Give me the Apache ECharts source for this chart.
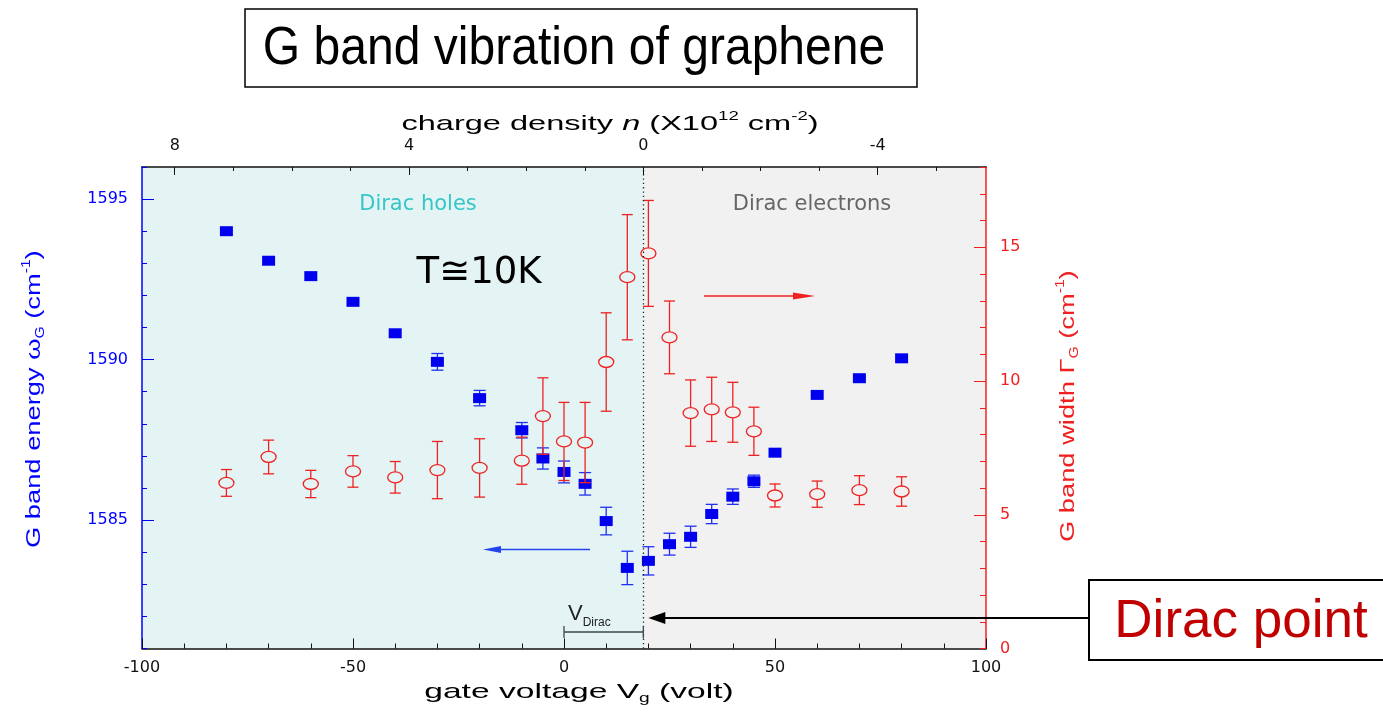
<!DOCTYPE html>
<html><head><meta charset="utf-8">
<script src="https://cdn.jsdelivr.net/npm/echarts@6/dist/echarts.min.js"></script>
<style>html,body{margin:0;padding:0;background:#fff}#c{width:1383px;height:713px}</style>
</head><body><div id="c"></div>
<script>
// ---------------- data ----------------
const gateVoltage = [-80,-70,-60,-50,-40,-30,-20,-10,-5,0,5,10,15,20,25,30,35,40,45,50,60,70,80];
const energy      = [1594.0,1593.08,1592.6,1591.8,1590.82,1589.93,1588.8,1587.8,1586.92,1586.5,1586.13,1584.97,1583.51,1583.73,1584.25,1584.48,1585.19,1585.73,1586.21,1587.1,1588.9,1589.42,1590.04];
const energyErr   = [0,0,0,0,0,0.26,0.24,0.24,0.33,0.34,0.35,0.43,0.52,0.44,0.34,0.33,0.3,0.24,0.19,0,0,0,0];
const bandWidth   = [6.19,7.16,6.15,6.62,6.40,6.67,6.75,7.02,8.69,7.74,7.70,10.71,13.88,14.77,11.63,8.80,8.94,8.83,8.12,5.72,5.77,5.92,5.87];
const bandWidthErr= [0.5,0.63,0.51,0.59,0.59,1.07,1.09,0.88,1.43,1.46,1.5,1.84,2.34,1.98,1.36,1.24,1.2,1.12,0.9,0.43,0.49,0.54,0.55];
const V_DIRAC = 18.8;            // volt
const VOLT_PER_DENSITY = 13.88;  // volt per 1e12 cm^-2
const voltLabels    = [-100,-50,0,50,100];
const densityLabels = [8,4,0,-4];
const densityTicks  = [-5,-4,-3,-2,-1,0,1,2,3,4,5,6,7,8];
const energyLabels  = [1585,1590,1595];
const widthLabels   = [0,5,10,15];
const widthMajor    = [5,10,15];

// ---------------- chart ----------------
const chart = echarts.init(document.getElementById('c'), null, {renderer:'canvas'});
const nAt = v => (V_DIRAC - v) / VOLT_PER_DENSITY;
const AXF = 'DejaVu Sans';
const BLUE = '#0000ff', RED = '#f02020';
const plain = v => String(v);

function xAx(o){ return Object.assign({type:'value', z:10, splitLine:{show:false}}, o); }

const option = {
  animation:false,
  backgroundColor:'#ffffff',
  grid:{left:142,right:397,top:167,bottom:64.5,containLabel:false,outerBoundsMode:'none'},
  xAxis:[
    xAx({position:'bottom', min:-100, max:100, interval:10,
      axisLine:{show:true,onZero:false,lineStyle:{color:'#111',width:1.5}},
      axisTick:{show:true,inside:true,length:5,lineStyle:{color:'#111'}},
      axisLabel:{show:true,customValues:voltLabels,formatter:plain,margin:11,color:'#111',fontFamily:AXF,fontSize:16}}),
    xAx({position:'top', inverse:true, min:nAt(100), max:nAt(-100),
      axisLine:{show:true,onZero:false,lineStyle:{color:'#111',width:1.5}},
      axisTick:{show:true,inside:true,length:8,customValues:densityLabels,lineStyle:{color:'#111'}},
      axisLabel:{show:true,customValues:densityLabels,formatter:plain,margin:13,color:'#111',fontFamily:AXF,fontSize:16}}),
    xAx({position:'top', inverse:true, min:nAt(100), max:nAt(-100),
      axisLine:{show:false,onZero:false},
      axisTick:{show:true,inside:true,length:4,customValues:densityTicks,lineStyle:{color:'#111'}},
      axisLabel:{show:false}}),
    xAx({position:'bottom', min:-100, max:100, interval:50,
      axisLine:{show:false,onZero:false},
      axisTick:{show:true,inside:true,length:10,lineStyle:{color:'#111'}},
      axisLabel:{show:false}})
  ],
  yAxis:[
    xAx({position:'left', min:1581, max:1596, interval:1,
      axisLine:{show:true,onZero:false,lineStyle:{color:BLUE,width:1.5}},
      axisTick:{show:true,inside:true,length:5,lineStyle:{color:BLUE}},
      axisLabel:{show:true,customValues:energyLabels,formatter:plain,margin:14,color:BLUE,fontFamily:AXF,fontSize:16}}),
    xAx({position:'right', min:0, max:18, interval:1,
      axisLine:{show:true,onZero:false,lineStyle:{color:RED,width:1.5}},
      axisTick:{show:true,inside:true,length:6,lineStyle:{color:RED}},
      axisLabel:{show:true,customValues:widthLabels,formatter:plain,margin:14,color:RED,fontFamily:AXF,fontSize:16}}),
    xAx({position:'left', min:1581, max:1596,
      axisLine:{show:false,onZero:false},
      axisTick:{show:true,inside:true,length:12,customValues:energyLabels,lineStyle:{color:BLUE}},
      axisLabel:{show:false}}),
    xAx({position:'right', min:0, max:18,
      axisLine:{show:false,onZero:false},
      axisTick:{show:true,inside:true,length:12,customValues:widthMajor,lineStyle:{color:RED}},
      axisLabel:{show:false}})
  ],
  series:[
    {
      type:'scatter', xAxisIndex:0, yAxisIndex:0, z:-5, silent:true,
      symbolSize:0, data:[[0,1590]],
      markArea:{silent:true, data:[
        [{xAxis:-100, itemStyle:{color:'#e4f4f4'}},{xAxis:V_DIRAC}],
        [{xAxis:V_DIRAC, itemStyle:{color:'#f1f1f1'}},{xAxis:100}]
      ]},
      markLine:{silent:true, symbol:'none', label:{show:false},
        lineStyle:{color:'#222', width:1.3, type:[1.3,3]},
        data:[{xAxis:V_DIRAC}]}
    },
    {
      name:'G band energy', type:'custom', xAxisIndex:0, yAxisIndex:0, z:3,
      data: gateVoltage.map((v,i)=>[v, energy[i], energyErr[i]]),
      encode:{x:0,y:1},
      renderItem:function(params, api){
        const x = api.value(0), y = api.value(1), e = api.value(2);
        const c = api.coord([x,y]);
        const ch = [];
        const st = {stroke:'#2030f0', lineWidth:1.3};
        if (e > 0) {
          const t = api.coord([x,y+e]), b = api.coord([x,y-e]);
          ch.push({type:'line', shape:{x1:c[0],y1:t[1],x2:c[0],y2:b[1]}, style:st});
          ch.push({type:'line', shape:{x1:c[0]-6,y1:t[1],x2:c[0]+6,y2:t[1]}, style:st});
          ch.push({type:'line', shape:{x1:c[0]-6,y1:b[1],x2:c[0]+6,y2:b[1]}, style:st});
        }
        ch.push({type:'rect', shape:{x:c[0]-6.5,y:c[1]-5,width:13,height:10}, style:{fill:'#0000ee'}});
        return {type:'group', children:ch};
      }
    },
    {
      name:'G band width', type:'custom', xAxisIndex:0, yAxisIndex:1, z:4,
      data: gateVoltage.map((v,i)=>[v, bandWidth[i], bandWidthErr[i]]),
      encode:{x:0,y:1},
      renderItem:function(params, api){
        const x = api.value(0), y = api.value(1), e = api.value(2);
        const c = api.coord([x,y]);
        const t = api.coord([x,y+e]), b = api.coord([x,y-e]);
        const rx = 7.5, ry = 5.5;
        const st = {stroke:'#ee2222', lineWidth:1.3, fill:null};
        const ch = [
          {type:'line', shape:{x1:c[0],y1:t[1],x2:c[0],y2:c[1]-ry}, style:st},
          {type:'line', shape:{x1:c[0],y1:c[1]+ry,x2:c[0],y2:b[1]}, style:st},
          {type:'line', shape:{x1:c[0]-5.5,y1:t[1],x2:c[0]+5.5,y2:t[1]}, style:st},
          {type:'line', shape:{x1:c[0]-5.5,y1:b[1],x2:c[0]+5.5,y2:b[1]}, style:st},
          {type:'path', shape:{pathData:
            'M'+(c[0]-rx)+' '+c[1]+' A'+rx+' '+ry+' 0 1 0 '+(c[0]+rx)+' '+c[1]+' A'+rx+' '+ry+' 0 1 0 '+(c[0]-rx)+' '+c[1]+' Z'},
           style:{stroke:'#ee2222', lineWidth:1.3, fill:'rgba(0,0,0,0)'}}
        ];
        return {type:'group', children:ch};
      }
    }
  ]
};
chart.setOption(option);

// ---------------- annotations ----------------
const px = (v, yv) => chart.convertToPixel({xAxisIndex:0, yAxisIndex:0}, [v, yv]);
const p0 = px(0, 1581), pD = px(V_DIRAC, 1581);
const bracketY = 632, arrowY = 618;
const SANS = 'Liberation Sans';
const supS = {fontSize:12, fontFamily:SANS, verticalAlign:'top', lineHeight:26};
const subS = {fontSize:12, fontFamily:SANS, verticalAlign:'bottom', lineHeight:26};

const graphics = [
  // title
  {type:'rect', z:100, shape:{x:245,y:9,width:672,height:78}, style:{fill:'#fff',stroke:'#000',lineWidth:1.5}},
  {type:'text', z:101, x:574, y:49, scaleX:0.89,
   style:{text:'G band vibration of graphene', font:'54px "Liberation Sans"', fill:'#000', textAlign:'center', textVerticalAlign:'middle', align:'center', verticalAlign:'middle'}},
  // axis titles
  {type:'text', z:101, x:610, y:124, scaleX:1.55,
   style:{text:'charge density {i|n} (X10{p|12} cm{p|-2})', font:'21px "Liberation Sans"', fill:'#000',
     textAlign:'center', textVerticalAlign:'middle', align:'center', verticalAlign:'middle',
     rich:{i:{fontStyle:'italic', fontSize:21, fontFamily:SANS, lineHeight:26}, p:supS}}},
  {type:'text', z:101, x:579, y:692, scaleX:1.6,
   style:{text:'gate voltage V{b|g} (volt)', font:'21px "Liberation Sans"', fill:'#000',
     textAlign:'center', textVerticalAlign:'middle', align:'center', verticalAlign:'middle',
     rich:{b:subS}}},
  {type:'text', z:101, x:34, y:548, rotation:Math.PI/2, scaleX:1.3,
   style:{text:'G band energy ω{b|G} (cm{p|-1})', font:'21px "Liberation Sans"', fill:BLUE,
     textAlign:'left', textVerticalAlign:'middle', align:'left', verticalAlign:'middle',
     rich:{b:subS, p:supS}}},
  {type:'text', z:101, x:1068, y:542, rotation:Math.PI/2, scaleX:1.3,
   style:{text:'G band width Γ{b|G} (cm{p|-1})', font:'21px "Liberation Sans"', fill:RED,
     textAlign:'left', textVerticalAlign:'middle', align:'left', verticalAlign:'middle',
     rich:{b:subS, p:supS}}},
  // in-plot labels
  {type:'text', z:101, x:418, y:205,
   style:{text:'Dirac holes', font:'21px "DejaVu Sans"', fill:'#36c6c8', textAlign:'center', textVerticalAlign:'middle', align:'center', verticalAlign:'middle'}},
  {type:'text', z:101, x:812, y:205,
   style:{text:'Dirac electrons', font:'21px "DejaVu Sans"', fill:'#666666', textAlign:'center', textVerticalAlign:'middle', align:'center', verticalAlign:'middle'}},
  {type:'text', z:101, x:479, y:273,
   style:{text:'T≅10K', font:'37px "DejaVu Sans"', fill:'#000', textAlign:'center', textVerticalAlign:'middle', align:'center', verticalAlign:'middle'}},
  // red arrow (to the right axis)
  {type:'line', z:101, shape:{x1:704,y1:296,x2:800,y2:296}, style:{stroke:'#f02020',lineWidth:1.5}},
  {type:'polygon', z:101, shape:{points:[[815,296],[793,292.5],[793,299.5]]}, style:{fill:'#f02020'}},
  // blue arrow (to the left axis)
  {type:'line', z:101, shape:{x1:590,y1:549.5,x2:498,y2:549.5}, style:{stroke:'#2244ee',lineWidth:1.5}},
  {type:'polygon', z:101, shape:{points:[[483,549.5],[501,546],[501,553]]}, style:{fill:'#2244ee'}},
  // V_Dirac bracket
  {type:'text', z:101, x:p0[0]+4, y:614,
   style:{text:'V{s|Dirac}', font:'22px "Liberation Sans"', fill:'#222', textAlign:'left', textVerticalAlign:'middle', align:'left', verticalAlign:'middle',
     rich:{s:{fontSize:12, fontFamily:SANS, verticalAlign:'bottom', lineHeight:30}}}},
  {type:'line', z:101, shape:{x1:p0[0],y1:bracketY,x2:pD[0],y2:bracketY}, style:{stroke:'#3a4a4a',lineWidth:1.3}},
  {type:'line', z:101, shape:{x1:p0[0],y1:bracketY-6,x2:p0[0],y2:bracketY+6}, style:{stroke:'#3a4a4a',lineWidth:1.3}},
  {type:'line', z:101, shape:{x1:pD[0],y1:bracketY-6,x2:pD[0],y2:bracketY+6}, style:{stroke:'#3a4a4a',lineWidth:1.3}},
  // Dirac point callout
  {type:'line', z:101, shape:{x1:1089,y1:arrowY,x2:pD[0]+18,y2:arrowY}, style:{stroke:'#000',lineWidth:2}},
  {type:'polygon', z:101, shape:{points:[[pD[0]+5,arrowY],[pD[0]+22,arrowY-6],[pD[0]+22,arrowY+6]]}, style:{fill:'#000'}},
  {type:'rect', z:100, shape:{x:1089,y:580,width:320,height:80}, style:{fill:'#fff',stroke:'#000',lineWidth:2}},
  {type:'text', z:101, x:1241, y:622,
   style:{text:'Dirac point', font:'53px "Liberation Sans"', fill:'#c00000', textAlign:'center', textVerticalAlign:'middle', align:'center', verticalAlign:'middle'}}
];
chart.setOption({graphic:{elements:graphics}});
</script>
</body></html>
